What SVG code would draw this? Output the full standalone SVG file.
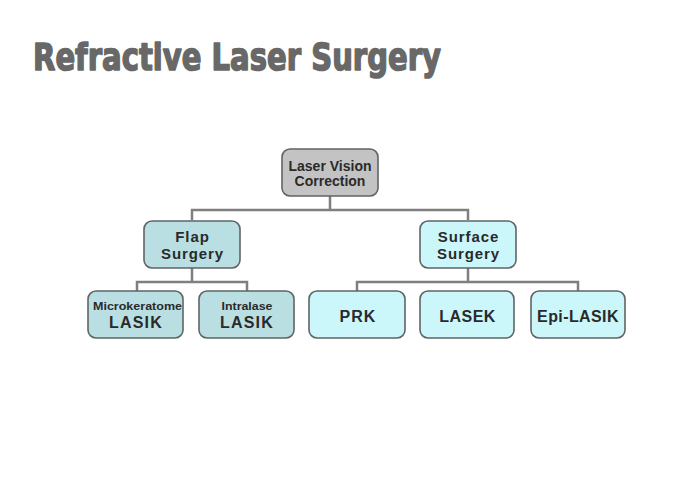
<svg xmlns="http://www.w3.org/2000/svg" width="675" height="482" viewBox="0 0 675 482">
<style>
.box{stroke:#5f6466;stroke-width:1.6}
.gray{fill:#c3c3c3}
.flap{fill:#b9dfe2}
.surf{fill:#ccf7fa}
.t{font-family:"Liberation Sans",Arial,sans-serif;font-weight:bold;fill:#2a2a2a;text-anchor:middle}
.conn{fill:none;stroke:#7f7f7f;stroke-width:2.5}
</style>
<rect width="675" height="482" fill="#ffffff"/>
<text x="33" y="70" font-family="'DejaVu Sans',sans-serif" font-weight="bold" font-size="38" fill="#686868" stroke="#686868" stroke-width="1.6" stroke-linejoin="round" textLength="408" lengthAdjust="spacingAndGlyphs">Refractive Laser Surgery</text>
<g id="connectors">
<path class="conn" d="M330 195V210M192 220V210H468V220"/>
<path class="conn" d="M192 268V282M137 291V282H247V291"/>
<path class="conn" d="M468 268V282M357 291V282H578V291"/>
</g>
<g id="n-lvc">
<rect class="box gray" x="282" y="149" width="96" height="47" rx="8"/>
<text class="t" x="330" y="171" font-size="14">Laser Vision</text>
<text class="t" x="330" y="186" font-size="14">Correction</text>
</g>
<g id="n-flap">
<rect class="box flap" x="144" y="221" width="96" height="47" rx="8"/>
<text class="t" x="192.5" y="242" font-size="15" letter-spacing="0.9">Flap</text>
<text class="t" x="192.5" y="258.5" font-size="15" letter-spacing="0.9">Surgery</text>
</g>
<g id="n-surface">
<rect class="box surf" x="420" y="221" width="96" height="47" rx="8"/>
<text class="t" x="468.5" y="242" font-size="15" letter-spacing="0.9">Surface</text>
<text class="t" x="468.5" y="258.5" font-size="15" letter-spacing="0.9">Surgery</text>
</g>
<g id="n-micro">
<rect class="box flap" x="88" y="291" width="95" height="47" rx="8"/>
<text class="t" x="137.5" y="310" font-size="11" textLength="89" lengthAdjust="spacingAndGlyphs">Microkeratome</text>
<text class="t" x="136" y="328" font-size="16" letter-spacing="1.2">LASIK</text>
</g>
<g id="n-intra">
<rect class="box flap" x="199" y="291" width="95" height="47" rx="8"/>
<text class="t" x="247" y="310" font-size="11" textLength="51" lengthAdjust="spacingAndGlyphs">Intralase</text>
<text class="t" x="247" y="328" font-size="16" letter-spacing="1.2">LASIK</text>
</g>
<g id="n-prk">
<rect class="box surf" x="309" y="291" width="96" height="47" rx="8"/>
<text class="t" x="358" y="322" font-size="16" letter-spacing="1">PRK</text>
</g>
<g id="n-lasek">
<rect class="box surf" x="420" y="291" width="94" height="47" rx="8"/>
<text class="t" x="467.5" y="322" font-size="16" letter-spacing="0.5">LASEK</text>
</g>
<g id="n-epi">
<rect class="box surf" x="531" y="291" width="94" height="47" rx="8"/>
<text class="t" x="578" y="322" font-size="16" letter-spacing="0.4">Epi-LASIK</text>
</g>
</svg>
